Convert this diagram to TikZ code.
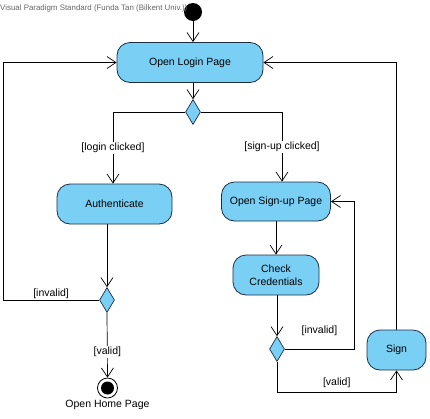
\documentclass[tikz,border=0pt]{standalone}
\usepackage{fontspec}
\setmainfont{Liberation Sans}
\usetikzlibrary{shapes.geometric,arrows.meta}
\definecolor{actfill}{RGB}{122,207,245}
\definecolor{actdraw}{RGB}{30,45,70}
\tikzset{
  act/.style={draw=actdraw, fill=actfill, rounded corners=13pt, line width=0.8pt, inner sep=0pt, align=center, font=\fontsize{10.5}{13}\selectfont},
  dec/.style={draw=actdraw, fill=actfill, diamond, inner sep=0pt, minimum width=15pt, minimum height=25pt, line width=0.7pt},
  arr/.style={-{Straight Barb[length=9pt,width=12pt,line width=0.7pt]}, line width=0.7pt},
  ln/.style={line width=0.7pt},
  lbl/.style={fill=white, inner sep=1pt, font=\fontsize{10.5}{12}\selectfont},
  plain/.style={inner sep=0pt, font=\fontsize{10.5}{12}\selectfont}
}
\begin{document}
\begin{tikzpicture}[x=1pt,y=-1pt]
\useasboundingbox (0,0) rectangle (430,418);
\node[circle, fill=black, minimum size=18pt, inner sep=0pt] (init) at (193,12) {};
\node[anchor=west, text=black!60, font=\fontsize{7.9}{10}\selectfont, inner sep=0pt] (title) at (0,8) {Visual Paradigm Standard (Funda Tan (Bilkent Univ.))};
\node[act, minimum width=146pt, minimum height=40pt] (login) at (190,62.5) {Open Login Page};
\node[dec] (d1) at (193,112) {};
\node[act, minimum width=115pt, minimum height=40pt] (auth) at (114.5,204) {Authenticate};
\node[act, minimum width=109pt, minimum height=39pt] (su) at (276,201.5) {Open Sign-up Page};
\node[act, minimum width=86pt, minimum height=40pt] (cc) at (276,275) {Check\\Credentials};
\node[dec] (d2) at (107,300) {};
\node[dec] (d3) at (277,349) {};
\node[act, minimum width=59pt, minimum height=40pt] (sign) at (396.5,350) {Sign};
\node[circle, draw=black, fill=white, line width=0.8pt, minimum size=20pt, inner sep=0pt] (fin) at (107.5,388) {};
\node[circle, fill=black, minimum size=13pt, inner sep=0pt] (finin) at (fin) {};
\node[plain, anchor=north] (home) at (107.5,400) {Open Home Page};
\coordinate (lft) at (3,300);
\coordinate (rt) at (354,349);
\coordinate (bt) at (277,392);
\draw[arr] (init) -- (init |- login.north);
\draw[arr] (login.south -| d1) -- (d1.north);
\draw[arr] (d1.west) -| node[lbl, pos=0.75] {[login clicked]} ([xshift=-1.5pt]auth.north);
\draw[arr] (d1.east) -| node[lbl, pos=0.75] {[sign-up clicked]} ([xshift=6pt]su.north);
\draw[arr] (auth.south -| d2) -- (d2.north);
\draw[arr] (d2.west) -- node[plain, above=1pt, pos=0.5] {[invalid]} (lft) |- (login.west);
\draw[arr] (d2.south) -- node[lbl, pos=0.6] {[valid]} (fin.north);
\draw[arr] (su.south) -- (cc.north);
\draw[arr] (cc.south -| d3) -- (d3.north);
\draw[arr] (d3.east) -- node[plain, above=13pt, pos=0.5] {[invalid]} (rt) |- (su.east);
\draw[arr] (d3.south) -- (bt) -| node[plain, above=4pt, pos=0.25] {[valid]} (sign.south);
\draw[arr] (sign.north) |- (login.east);
\end{tikzpicture}
\end{document}
